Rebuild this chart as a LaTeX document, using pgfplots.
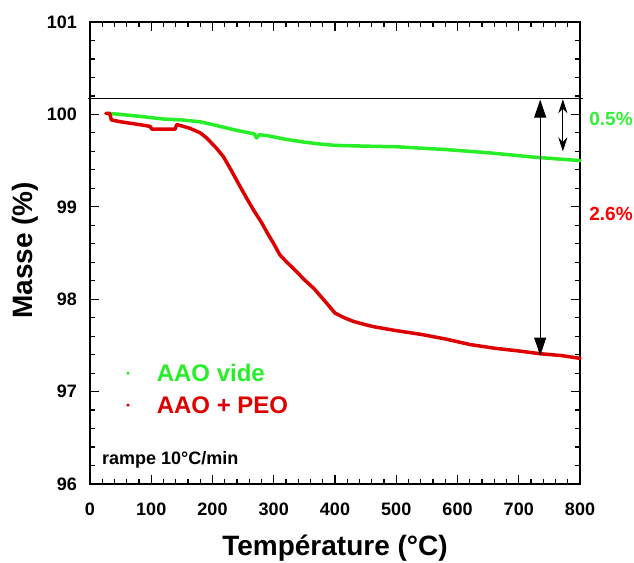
\documentclass[border=0pt]{standalone}
\usepackage{fontspec}
\setmainfont{Liberation Sans}
\usepackage{pgfplots}
\pgfplotsset{compat=1.18}
\usetikzlibrary{arrows.meta}
\definecolor{cgreen}{RGB}{40,238,40}
\definecolor{cred}{RGB}{222,0,0}
\definecolor{tgreen}{RGB}{50,240,50}
\definecolor{tred}{RGB}{255,0,0}
\begin{document}
\begin{tikzpicture}
\begin{axis}[
 scale only axis, width=490pt, height=462pt,
 xmin=0,xmax=800,ymin=96,ymax=101,
 xtick={0,100,...,800}, ytick={96,97,...,101},
 minor x tick num=4, minor y tick num=4,
 tick align=inside,
 major tick length=9pt, minor tick length=5pt,
 tick style={black, line width=1.2pt},
 axis line style={line width=1.4pt},
 ticklabel style={font=\fontsize{18}{20}\selectfont\bfseries},
 yticklabel style={inner sep=0pt, xshift=-13pt},
 xticklabel style={inner sep=0pt, yshift=-19pt},
 xlabel={Température (°C)}, ylabel={Masse (\%)},
 label style={font=\fontsize{28}{32}\selectfont\bfseries, inner sep=0pt},
 xlabel style={at={(axis description cs:0.5,-0.1385)}, anchor=center},
 ylabel style={at={(axis description cs:-0.1327,0.506)}, anchor=center},
 clip=false,
 legend style={at={(axis cs:59.1,97.374)}, anchor=north west, draw=none, fill=none,
   inner sep=0pt, outer sep=0pt, column sep=27pt, row sep=0pt,
   font=\fontsize{24}{28}\selectfont\bfseries,
   nodes={inner sep=0pt, text height=24.6pt, text depth=7.4pt, anchor=west}},
 legend image code/.code={\fill[#1, draw=none] (0pt,0pt) circle (1.8pt);},
 /pgf/number format/1000 sep={},
 /pgf/number format/assume math mode=true,
]
\addplot[cgreen, line width=3.5pt, line join=round, line cap=round] coordinates {
(32,100.01) (50,100.00) (80,99.98) (100,99.965) (120,99.95) (150,99.94) (180,99.92)
(200,99.89) (228,99.845) (245,99.82) (260,99.80) (268,99.79) (272,99.745) (276,99.78)
(290,99.77) (320,99.73) (350,99.70) (375,99.68) (400,99.665) (430,99.66) (460,99.655)
(500,99.65) (540,99.635) (580,99.62) (620,99.60) (650,99.585) (690,99.56) (720,99.54)
(760,99.52) (800,99.50)
};
\addlegendentry[text=cgreen]{AAO vide}
\addplot[cred, line width=3.5pt, line join=round, line cap=round] coordinates {
(26,100.01) (32,100.01) (35,99.94) (50,99.92) (70,99.90) (90,99.88) (98,99.87)
(101,99.84) (120,99.84) (139,99.84) (141.5,99.89) (150,99.875) (163,99.85) (180,99.80)
(190.5,99.745) (207,99.63) (218,99.54) (231,99.39) (245,99.22) (256,99.09) (267,98.965)
(280,98.83) (291,98.70) (300,98.60) (310,98.48) (320,98.41) (337,98.30) (350,98.21)
(365,98.12) (386,97.96) (400,97.85) (415,97.80) (430,97.76) (452,97.72)
(465,97.70) (500,97.66) (540,97.62) (580,97.57) (620,97.51) (660,97.47) (700,97.44)
(735,97.41) (770,97.39) (800,97.36)
};
\addlegendentry[text=cred]{AAO + PEO}
\draw[line width=0.9pt] (axis cs:-3,100.17) -- (axis cs:805,100.17);
\draw[line width=0.9pt, {Triangle[length=18pt,width=12pt]}-{Triangle[length=18pt,width=12pt]}] (axis cs:735,100.16) -- (axis cs:735,97.39);
\draw[line width=0.9pt, {Stealth[length=14pt,width=9pt]}-{Stealth[length=14pt,width=9pt]}] (axis cs:772,100.165) -- (axis cs:772,99.60);
\node[inner sep=0pt, text=tgreen, font=\fontsize{19}{22}\selectfont\bfseries] at (axis cs:850.6,99.95) {0.5\%};
\node[inner sep=0pt, text=tred, font=\fontsize{19}{22}\selectfont\bfseries] at (axis cs:850.6,98.92) {2.6\%};
\node[anchor=west, inner sep=0pt, font=\fontsize{18}{20}\selectfont\bfseries] at (axis cs:19.6,96.26) {rampe 10°C/min};
\path (axis description cs:-0.18367,-0.16883) rectangle (axis description cs:1.11020,1.04762);
\end{axis}
\end{tikzpicture}
\end{document}
